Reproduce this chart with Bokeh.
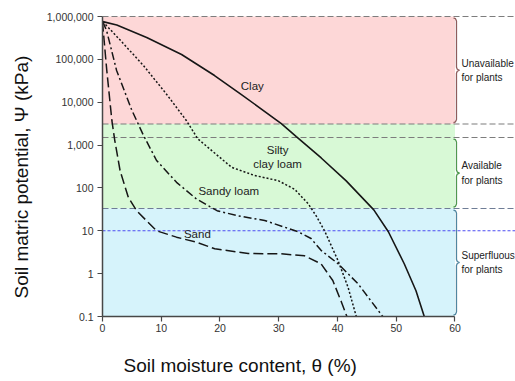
import math
from bokeh.plotting import figure
from bokeh.models import Range1d, FixedTicker, NumeralTickFormatter, Title
from bokeh.core.properties import value
from bokeh.embed import file_html
from bokeh.resources import INLINE

# ---- soil-water retention curves: moisture content θ (%) vs matric potential Ψ (kPa) ----
clay_theta = [0.05, 2.43, 7.52, 13.46, 19.07, 23.65, 30.44, 32.99, 37.23, 41.48, 46.18, 48.66, 51.38, 53.36, 54.77]
clay_psi = [760000, 631000, 324000, 130000, 41900, 15100, 3180, 1580, 500, 146, 30.7, 9.5, 1.68, 0.40, 0.1]

silty_theta = [0.05, 3.0, 7.0, 11.0, 14.3, 16.2, 18.6, 22.0, 25.9, 29.9, 32.7, 35.0, 36.4, 37.8, 40.1, 41.8, 43.2]
silty_psi = [760000, 282000, 71000, 14800, 3700, 1410, 740, 302, 195, 148, 93, 43, 22, 10, 2.0, 0.48, 0.1]

sandy_loam_theta = [0.05, 0.7, 2.4, 5.0, 7.0, 9.2, 12.6, 16.0, 19.5, 23.0, 27.6, 33.3, 35.5, 37.2, 40.1, 43.5, 47.7]
sandy_loam_psi = [760000, 468000, 55000, 6460, 1660, 437, 135, 55, 29.5, 22.4, 17.4, 9.5, 6.6, 3.5, 1.7, 0.58, 0.1]

sand_theta = [0.05, 0.05, 0.73, 1.6, 2.1, 3.0, 4.4, 5.8, 9.2, 12.6, 16.0, 19.1, 24.8, 30.4, 34.4, 37.2, 39.2, 40.6, 41.6]
sand_psi = [760000, 620000, 55000, 3700, 1260, 250, 60, 29.5, 10, 7.1, 5.4, 3.8, 2.95, 2.9, 2.6, 1.7, 0.69, 0.23, 0.1]

# ---- water-availability bands (kPa) ----
band_labels = ["Unavailable\nfor plants", "Available\nfor plants", "Superfluous\nfor plants"]
band_top = [1_000_000, 3_100, 33]
band_bottom = [3_100, 33, 0.1]
band_colors = ["#fdd7d7", "#d8f9d6", "#d6f3fb"]
brace_top = [1_000_000, 1_500, 33]
brace_bottom = [3_100, 33, 0.1]
brace_colors = ["#8e5c5c", "#4f984f", "#4f86a0"]

ref_levels = [1_000_000, 3_100, 1_500, 33]
ref_colors = ["#7d7d7d", "#7d7d7d", "#7d7d7d", "#6f7d96"]
sandy_field_capacity = 10

# ---- curve names and their label anchors ----
curve_labels = ["Clay", "Silty\nclay loam", "Sandy loam", "Sand"]
curve_label_theta = [25.5, 29.8, 21.5, 16.15]
curve_label_psi = [23800, 519, 86.5, 8.6]

x_ticks = [0, 10, 20, 30, 40, 50, 60]
y_ticks = [0.1, 1, 10, 100, 1_000, 10_000, 100_000, 1_000_000]
theta_band_end = 60

# ---- figure geometry ----
W, H = 515, 381
LEFT, TOP, BOTTOM = 101, 10, 65
frame_w, frame_h = W - LEFT, H - TOP - BOTTOM
x_end = 70.3
y_lo, y_hi = 0.1, 10 ** 6.14
kx = x_end / frame_w                                   # data units per pixel (x)
ky = (math.log10(y_hi) - math.log10(y_lo)) / frame_h   # decades per pixel (y)

p = figure(width=W, height=H, x_range=Range1d(0, x_end), y_range=Range1d(y_lo, y_hi),
           y_axis_type="log", output_backend="svg", toolbar_location=None,
           min_border_left=LEFT, min_border_right=0, min_border_top=TOP,
           min_border_bottom=BOTTOM)
p.outline_line_color = None
p.xgrid.visible = False
p.ygrid.visible = False
p.background_fill_color = "white"
p.border_fill_color = "white"

# shaded availability bands
p.quad(left=0, right=theta_band_end, bottom=band_bottom, top=band_top,
       fill_color=band_colors, line_color=None)

# curly braces on the right edge of each band
def brace(top, bottom):
    lt = math.log10(top) - 1.5 * ky
    lb = math.log10(bottom) + 1.5 * ky
    lm = (lt + lb) / 2
    shape = [(-3, lt), (-1, lt - 0.7 * ky), (0, lt - 3 * ky), (0, lm + 3 * ky),
             (0.8, lm + 1 * ky), (3, lm), (0.8, lm - 1 * ky), (0, lm - 3 * ky),
             (0, lb + 3 * ky), (-1, lb + 0.7 * ky), (-3, lb)]
    x0 = theta_band_end + 1.5 * kx
    return [x0 + dx * kx for dx, _ in shape], [10 ** l for _, l in shape]

bx, by = zip(*[brace(t, b) for t, b in zip(brace_top, brace_bottom)])
p.multi_line(xs=list(bx), ys=list(by), line_color=brace_colors, line_width=1.3)

# reference levels
p.segment(x0=0, x1=x_end, y0=ref_levels, y1=ref_levels, line_color=ref_colors,
          line_dash="6 3", line_width=1.1)
p.segment(x0=0, x1=x_end, y0=sandy_field_capacity, y1=sandy_field_capacity,
          line_color="#4d4df2", line_dash="3 2", line_width=1.1)

# retention curves
ink = "#161616"
p.line(clay_theta, clay_psi, line_color=ink, line_width=1.6)
p.line(silty_theta, silty_psi, line_color=ink, line_width=1.5, line_dash="2 2")
p.line(sandy_loam_theta, sandy_loam_psi, line_color=ink, line_width=1.5, line_dash="8 3 2 3")
p.line(sand_theta, sand_psi, line_color=ink, line_width=1.5, line_dash="10 4")

label_font = value("Liberation Sans")
p.text(x=curve_label_theta, y=curve_label_psi, text=curve_labels, text_font=label_font,
       text_font_size="11.5px", text_color="#222222", text_align="center",
       text_baseline="middle", text_line_height=1.15)

# band descriptions to the right of the braces
band_mid = [10 ** ((math.log10(t) + math.log10(b)) / 2) for t, b in zip(brace_top, brace_bottom)]
p.text(x=[theta_band_end + 6.5 * kx] * 3, y=band_mid, text=band_labels, text_font=label_font,
       text_font_size="10px", text_color="#222222", text_align="left",
       text_baseline="middle", text_line_height=1.3)

# axes
for ax in (p.xaxis[0], p.yaxis[0]):
    ax.major_tick_in = 0
    ax.major_tick_out = 5
    ax.minor_tick_line_color = None
    ax.axis_line_color = "#474747"
    ax.axis_line_width = 1.5
    ax.major_tick_line_color = "#474747"
    ax.major_tick_line_width = 1.2
    ax.major_label_text_font = "Liberation Sans"
    ax.major_label_text_font_size = "10.5px"
    ax.major_label_text_color = "#333333"

p.xaxis.ticker = FixedTicker(ticks=x_ticks)
p.xaxis.bounds = (0, 60)
p.xaxis.major_label_standoff = 2
p.yaxis.ticker = FixedTicker(ticks=y_ticks)
p.yaxis.formatter = NumeralTickFormatter(format="0,0.[0]")
p.yaxis.bounds = (0.1, 1_000_000)
p.yaxis.major_label_standoff = 4

# axis titles (a thin blank title keeps the x title clear of the tick labels)
p.add_layout(Title(text=" ", text_font_size="1px", standoff=15), "below")
p.add_layout(Title(text="Soil moisture content, θ (%)", align="left", offset=21,
                   standoff=0, vertical_align="bottom", text_font="Liberation Sans",
                   text_font_size="19px", text_font_style="normal",
                   text_color="#111111"), "below")
p.add_layout(Title(text="Soil matric potential, Ψ (kPa)", align="left", offset=18,
                   standoff=20, vertical_align="top", text_font="Liberation Sans",
                   text_font_size="19px", text_font_style="normal",
                   text_color="#111111"), "left")

open("out.html", "w").write(file_html(p, INLINE))
